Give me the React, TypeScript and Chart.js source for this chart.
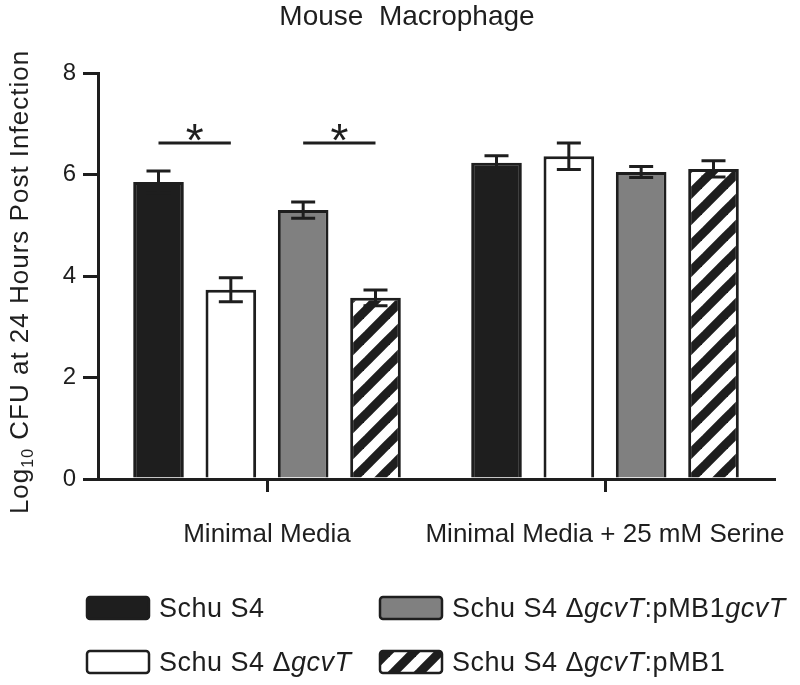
import React, { useEffect, useRef } from 'react';
import { Chart, registerables } from 'chart.js';

Chart.register(...registerables);

// ---------- data ----------
const CATEGORIES = ['Minimal Media', 'Minimal Media + 25 mM Serine'];
const SERIES_NAMES = ['Schu S4', 'Schu S4 ΔgcvT', 'Schu S4 ΔgcvT:pMB1gcvT', 'Schu S4 ΔgcvT:pMB1'];
const SCHU_S4 = [5.85, 6.23];
const DELTA_GCVT = [3.73, 6.36];
const PMB1_GCVT = [5.3, 6.05];
const PMB1 = [3.57, 6.11];
const SCHU_S4_ERR = [0.22, 0.14];
const DELTA_GCVT_ERR = [0.235, 0.26];
const PMB1_GCVT_ERR = [0.16, 0.11];
const PMB1_ERR = [0.155, 0.16];
const Y_MIN = 0;
const Y_MAX = 8;
const Y_STEP = 2;
const TITLE = 'Mouse  Macrophage';
const Y_LABEL_MAIN = 'Log';
const Y_LABEL_SUB = '10';
const Y_LABEL_REST = ' CFU at 24 Hours Post Infection';
const SIG_CATEGORY = [0, 0];
const SIG_FROM = [0, 2];
const SIG_TO = [1, 3];
const SIG_Y = [6.62, 6.62];
const SIG_MARK = ['*', '*'];

// ---------- style ----------
const INK = '#1e1e1e';
const FONT = "'Liberation Sans', Arial, sans-serif";

function makeHatch(ctx: CanvasRenderingContext2D) {
  const P = 26;
  const c = document.createElement('canvas');
  c.width = P;
  c.height = P;
  const g = c.getContext('2d')!;
  g.fillStyle = '#ffffff';
  g.fillRect(0, 0, P, P);
  g.strokeStyle = INK;
  g.lineWidth = 9;
  for (let k = 0; k <= 2; k++) {
    g.beginPath();
    g.moveTo(k * P + P, -P);
    g.lineTo(k * P - 2 * P, 2 * P);
    g.stroke();
  }
  return ctx.createPattern(c, 'repeat');
}

function splitItalic(label: string) {
  return label.split(/(gcvT)/).filter((s) => s.length > 0).map((s) => ({ text: s, italic: s === 'gcvT' }));
}

const errorBarPlugin = {
  id: 'errorBars',
  afterDatasetsDraw(chart: any) {
    const ctx = chart.ctx;
    const yScale = chart.scales.y;
    ctx.save();
    ctx.strokeStyle = INK;
    ctx.lineWidth = 3;
    chart.data.datasets.forEach((ds: any, i: number) => {
      const meta = chart.getDatasetMeta(i);
      meta.data.forEach((el: any, j: number) => {
        const v = ds.data[j];
        const e = ds.errors[j];
        const yt = yScale.getPixelForValue(v + e);
        const yb = yScale.getPixelForValue(v - e);
        const half = 12;
        ctx.beginPath();
        ctx.moveTo(el.x, yt);
        ctx.lineTo(el.x, yb);
        ctx.moveTo(el.x - half, yt);
        ctx.lineTo(el.x + half, yt);
        ctx.moveTo(el.x - half, yb);
        ctx.lineTo(el.x + half, yb);
        ctx.stroke();
      });
    });
    // significance marks
    ctx.font = `46px ${FONT}`;
    ctx.fillStyle = INK;
    ctx.textAlign = 'center';
    ctx.textBaseline = 'alphabetic';
    SIG_FROM.forEach((from, k) => {
      const c = SIG_CATEGORY[k];
      const x1 = chart.getDatasetMeta(from).data[c].x;
      const x2 = chart.getDatasetMeta(SIG_TO[k]).data[c].x;
      const y = yScale.getPixelForValue(SIG_Y[k]);
      ctx.beginPath();
      ctx.moveTo(x1, y);
      ctx.lineTo(x2, y);
      ctx.stroke();
      const m = ctx.measureText(SIG_MARK[k]);
      const center = y - 11;
      const base = center + (m.actualBoundingBoxAscent - m.actualBoundingBoxDescent) / 2;
      ctx.fillText(SIG_MARK[k], (x1 + x2) / 2, base);
    });
    ctx.restore();
  },
};

const annotationsPlugin = {
  id: 'annotations',
  afterDraw(chart: any) {
    const ctx = chart.ctx;
    ctx.save();
    ctx.fillStyle = INK;
    // title
    ctx.font = `28px ${FONT}`;
    ctx.textAlign = 'center';
    ctx.textBaseline = 'alphabetic';
    ctx.fillText(TITLE, 407, 25);

    // y label with subscript
    ctx.save();
    ctx.translate(28, 282);
    ctx.rotate(-Math.PI / 2);
    (ctx as any).letterSpacing = '1px';
    const mainFont = `26px ${FONT}`;
    const subFont = `16px ${FONT}`;
    ctx.font = mainFont;
    const w1 = ctx.measureText(Y_LABEL_MAIN).width;
    const w3 = ctx.measureText(Y_LABEL_REST).width;
    ctx.font = subFont;
    const w2 = ctx.measureText(Y_LABEL_SUB).width;
    const total = w1 + w2 + w3;
    let x = -total / 2;
    ctx.textAlign = 'left';
    ctx.font = mainFont;
    ctx.fillText(Y_LABEL_MAIN, x, 0);
    x += w1;
    ctx.font = subFont;
    ctx.fillText(Y_LABEL_SUB, x, 5);
    x += w2;
    ctx.font = mainFont;
    ctx.fillText(Y_LABEL_REST, x, 0);
    ctx.restore();

    // legend
    const colX = [87, 380];
    const rowY = [597, 651];
    const boxW = 62;
    const boxH = 22;
    chart.data.datasets.forEach((ds: any, i: number) => {
      const bx = colX[Math.floor(i / 2)];
      const by = rowY[i % 2];
      ctx.beginPath();
      (ctx as any).roundRect(bx, by, boxW, boxH, 3);
      ctx.fillStyle = ds.backgroundColor;
      ctx.fill();
      ctx.lineWidth = 2.5;
      ctx.strokeStyle = INK;
      ctx.stroke();
      let tx = bx + boxW + 10;
      ctx.fillStyle = INK;
      ctx.textAlign = 'left';
      ctx.textBaseline = 'alphabetic';
      (ctx as any).letterSpacing = '0.5px';
      splitItalic(ds.label).forEach((seg) => {
        ctx.font = `${seg.italic ? 'italic ' : ''}27px ${FONT}`;
        ctx.fillText(seg.text, tx, by + 20);
        tx += ctx.measureText(seg.text).width;
      });
      (ctx as any).letterSpacing = '0px';
    });
    ctx.restore();
  },
};

export default function App() {
  const canvasRef = useRef<HTMLCanvasElement | null>(null);

  useEffect(() => {
    const canvas = canvasRef.current!;
    const ctx = canvas.getContext('2d')!;
    const hatch = makeHatch(ctx);
    const fills = [INK, '#ffffff', '#808080', hatch];
    const values = [SCHU_S4, DELTA_GCVT, PMB1_GCVT, PMB1];
    const errors = [SCHU_S4_ERR, DELTA_GCVT_ERR, PMB1_GCVT_ERR, PMB1_ERR];

    const chart = new Chart(ctx, {
      type: 'bar',
      data: {
        labels: CATEGORIES,
        datasets: SERIES_NAMES.map((name, i) => ({
          label: name,
          data: values[i],
          errors: errors[i],
          backgroundColor: fills[i],
          borderColor: INK,
          borderWidth: 3,
          categoryPercentage: 0.856,
          barPercentage: 0.7,
        })) as any,
      },
      options: {
        responsive: false,
        animation: false,
        devicePixelRatio: 1,
        layout: { padding: { top: 73, right: 26, left: 0, bottom: 0 } },
        plugins: {
          legend: { display: false },
          title: { display: false },
          tooltip: { enabled: false },
        },
        scales: {
          x: {
            type: 'category',
            grid: {
              display: true,
              drawOnChartArea: false,
              drawTicks: true,
              tickLength: 13,
              lineWidth: 3,
              color: INK,
              offset: false,
            },
            border: { display: true, width: 3, color: INK },
            ticks: {
              font: { family: FONT, size: 26 },
              color: INK,
              padding: 27,
              maxRotation: 0,
              minRotation: 0,
              autoSkip: false,
            },
            afterFit: (s: any) => {
              s.height = 206;
              s.paddingLeft = 0;
              s.paddingRight = 0;
            },
          },
          y: {
            min: Y_MIN,
            max: Y_MAX,
            grid: {
              drawOnChartArea: false,
              drawTicks: true,
              tickLength: 15,
              lineWidth: 3,
              color: INK,
            },
            border: { display: true, width: 3, color: INK },
            ticks: { stepSize: Y_STEP, font: { family: FONT, size: 24 }, color: INK, padding: 7 },
            afterFit: (s: any) => {
              s.width = 98;
            },
          },
        },
      } as any,
      plugins: [errorBarPlugin, annotationsPlugin],
    });
    return () => chart.destroy();
  }, []);

  return (
    <div style={{ position: 'absolute', left: 0, top: 0, width: 800, height: 685, background: '#fff' }}>
      <canvas ref={canvasRef} width={800} height={685} style={{ display: 'block' }} />
    </div>
  );
}
